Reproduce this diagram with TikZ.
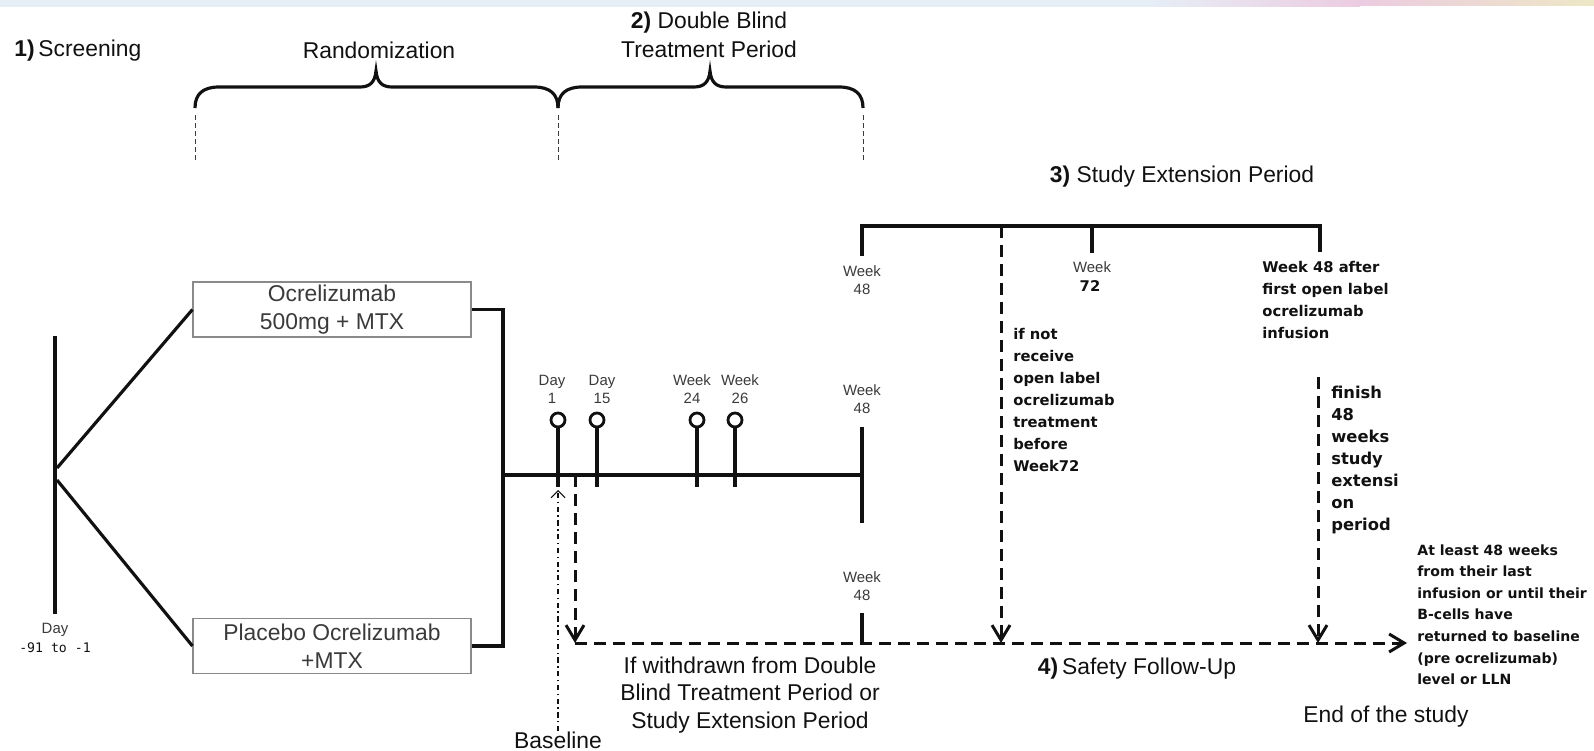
\documentclass[tikz,border=0pt]{standalone}
\usepackage{fontspec}
\setmainfont{Liberation Sans}
\newfontfamily\notefont{DejaVu Sans}
\newfontfamily\dayfont{DejaVu Sans Mono}
\usetikzlibrary{arrows.meta,positioning}
\definecolor{trialink}{HTML}{111111}
\definecolor{trialgray}{HTML}{3A3A3A}
\definecolor{trialbox}{HTML}{8A8A8A}
\definecolor{stripblue}{HTML}{E6EEF6}
\definecolor{strippink}{HTML}{ECCBE0}
\definecolor{stripsand}{HTML}{EDE7C6}
\tikzstyle{bar} = [line width=1.8pt, trialink]
\tikzstyle{flow} = [line width=1.7pt, trialink, dash pattern=on 2.4mm off 1.4mm, -{Straight Barb[length=3mm,width=3.6mm]}]
\tikzstyle{guide} = [trialgray, line width=0.5pt, dash pattern=on 0.9mm off 0.7mm]
\tikzstyle{phase} = [font=\fontsize{13}{16.4}\selectfont, align=center, inner sep=0pt, text=trialink]
\tikzstyle{arm} = [draw=trialbox, line width=0.6pt, minimum width=55.6mm, minimum height=11mm, align=center, inner sep=0pt, font=\fontsize{13}{16}\selectfont, text=trialgray]
\tikzstyle{visit} = [font=\fontsize{8.5}{10.2}\selectfont, align=center, inner sep=0pt, text=trialgray]
\tikzstyle{visitpin} = [circle, draw=trialink, line width=1.6pt, minimum size=2.8mm, inner sep=0pt]
\tikzstyle{note} = [font=\notefont\bfseries\fontsize{8.4}{12.5}\selectfont, align=left, anchor=north west, inner sep=0pt, text=trialink]

\begin{document}
\begin{tikzpicture}[x=0.2mm, y=-0.2mm]
\useasboundingbox (0,0) rectangle (1594,750);
\fill[stripblue] (0,0) rectangle (1150,7);
\shade[left color=stripblue, right color=strippink] (1150,0) rectangle (1360,6);
\shade[left color=strippink, right color=stripsand] (1360,0) rectangle (1594,5);

% phase headings
\node[phase, anchor=west] (screening) at (14,51) {\textbf{1)}\,Screening};
\node[phase] (random) at (379,50) {Randomization};
\node[phase] (dbtp) at (709,35) {\textbf{2)} Double Blind\\Treatment Period};
\node[phase] (extension) at (1182,177) {\textbf{3)} Study Extension Period};
\node[phase] (safety) at (1137,669) {\textbf{4)}\,Safety Follow-Up};
\node[phase, font=\fontsize{13}{15.6}\selectfont] (withdrawn) at (750,695) {If withdrawn from Double\\Blind Treatment Period or\\Study Extension Period};
\node[phase] (endstudy) at (1386,717) {End of the study};
\node[phase] (baseline) at (558,740) {Baseline};

% braces
\foreach \a/\m/\b in {195/376/558,558/710/863}{
  \draw[bar] (\a,108) .. controls (\a,94) and (\a+8,87) .. (\a+24,87) -- (\m-16,87)
    .. controls (\m-6,87) and (\m-1,82) .. (\m,71) .. controls (\m+1,82) and (\m+6,87) .. (\m+16,87)
    -- (\b-24,87) .. controls (\b-8,87) and (\b,94) .. (\b,108);
}
\foreach \x in {195,558,863}
  \draw[guide] (\x,115) -- (\x,163);

% screening and arms
\coordinate (dayTop) at (55,336);
\coordinate (dayBot) at (55,614);
\coordinate (forkA) at (57,468);
\coordinate (forkB) at (57,480);
\draw[bar] (dayTop) -- (dayBot);
\node[visit] (day0) at (55,630) {Day};
\node[font=\dayfont\fontsize{7.5}{9}\selectfont, inner sep=0pt, text=trialink] (day0range) at (55,648) {-91 to -1};
\node[arm] (active) at (332,309.5) {Ocrelizumab\\500mg + MTX};
\node[arm] (placebo) at (332,646) {Placebo Ocrelizumab\\+MTX};
\draw[bar] (forkA) -- (active.west);
\draw[bar] (forkB) -- (placebo.west);
\coordinate (join) at (503,475);
\draw[bar] (active.east) -| (join) |- (placebo.east);

% double blind timeline
\coordinate (wk48) at (862,475);
\coordinate (wk48top) at (862,427);
\coordinate (wk48bot) at (862,523);
\draw[bar] (join) -- (wk48);
\draw[bar] (wk48top) -- (wk48bot);
\foreach \x/\n in {558/d1,597/d15,697/w24,735/w26}{
  \node[visitpin] (\n) at (\x,420) {};
  \draw[bar] (\n.south) -- (\x,487);
}
\foreach \x/\y/\n/\kind/\num in {552/389/lbD1/Day/1,602/389/lbD15/Day/15,692/389/lbW24/Week/24,740/389/lbW26/Week/26,862/399/lbW48/Week/48,862/280.5/lbW48ext/Week/48,862/586/lbW48fu/Week/48}{
  \node[visit] (\n) at (\x,\y) {\kind\\\num};
}

% study extension
\coordinate (extL) at (862,256);
\coordinate (extTopR) at (1320,226);
\coordinate (extR) at (1320,252);
\coordinate (ext72) at (1092,226);
\coordinate (ext72bot) at (1092,253);
\draw[bar] (extL) |- (extTopR) -- (extR);
\draw[bar] (ext72) -- (ext72bot);
\node[visit] (lbW72) at (1092,267) {Week};
\node[note, anchor=center] (lbW72num) at (1090,286) {72};
\node[note] (afterfirst) at (1262,261) {Week 48 after\\first open label\\ocrelizumab\\infusion};
\node[note] (ifnot) at (1013,328) {if not\\receive\\open label\\ocrelizumab\\treatment\\before\\Week72};
\node[note, font=\notefont\bfseries\fontsize{9.3}{12.5}\selectfont] (finish) at (1331,386) {finish\\48\\weeks\\study\\extensi\\on\\period};
\node[note, font=\notefont\bfseries\fontsize{8}{12.3}\selectfont] (atleast) at (1417,544) {At least 48 weeks\\from their last\\infusion or until their\\B-cells have\\returned to baseline\\(pre ocrelizumab)\\level or LLN};

% safety follow-up
\coordinate (wdTop) at (575,475);
\coordinate (fuStart) at (575,643);
\coordinate (fuEnd) at (1407,643);
\coordinate (noOLtop) at (1001,226);
\coordinate (noOLbot) at (1001,643);
\coordinate (finTop) at (1318,377);
\coordinate (finBot) at (1318,643);
\coordinate (wk48fuTop) at (862,613);
\coordinate (wk48fuBot) at (862,643);
\draw[bar] (wk48fuTop) -- (wk48fuBot);
\draw[flow] (wdTop) -- (fuStart);
\draw[flow] (fuStart) -- (fuEnd);
\draw[flow] (noOLtop) -- (noOLbot);
\draw[flow] (finTop) -- (finBot);
\coordinate (baseTip) at (558,490);
\draw[trialink, line width=0.6pt, dash pattern=on 3pt off 2pt on 0.8pt off 2pt, -{Straight Barb[length=1.4mm,width=2.8mm]}] (baseline.north) -- (baseTip);
\end{tikzpicture}
\end{document}
